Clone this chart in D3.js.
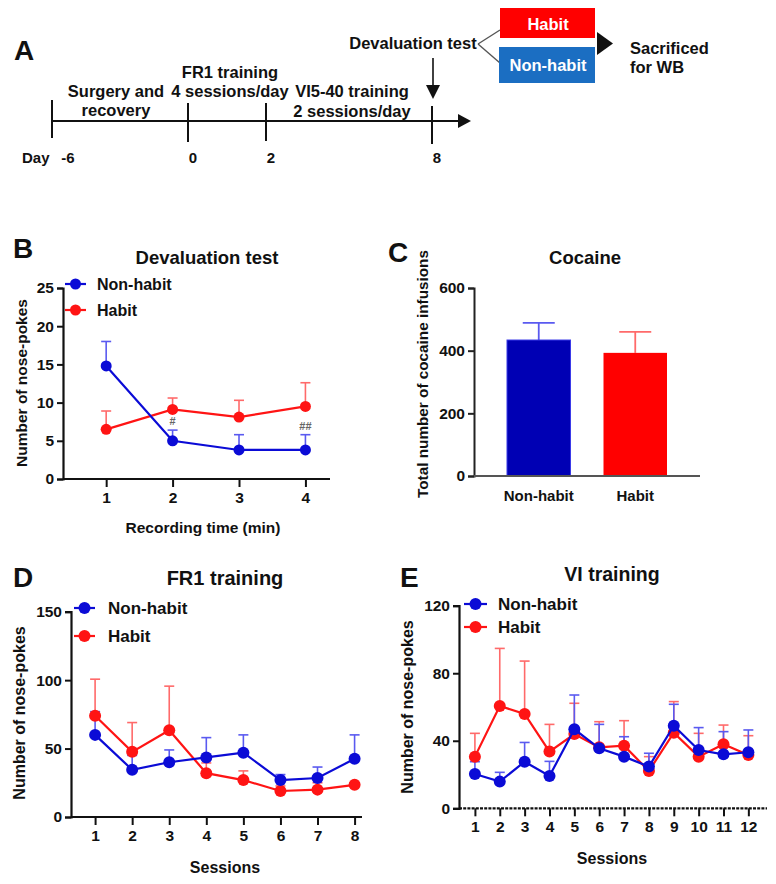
<!DOCTYPE html>
<html><head><meta charset="utf-8">
<script src="https://cdn.jsdelivr.net/npm/d3@7/dist/d3.min.js"></script>
<style>
body{margin:0;background:#fff}
svg{display:block}
text{font-family:"Liberation Sans",Arial,sans-serif;font-weight:bold;fill:#111}
</style>
</head><body>
<svg id="fig" width="776" height="884"></svg>
<script>
// ---------------- DATA ----------------
const groups = ["Non-habit", "Habit"];
const timelineDays = [-6, 0, 2, 8];
const timelineDayLabels = ["-6", "0", "2", "8"];

const devalTimes = [1, 2, 3, 4];
const devalNonHabit = [14.8, 5.0, 3.8, 3.8];
const devalNonHabitSEM = [3.2, 1.4, 2.0, 2.0];
const devalHabit = [6.5, 9.1, 8.1, 9.5];
const devalHabitSEM = [2.4, 1.5, 2.2, 3.1];
const devalMarks = ["", "#", "", "##"];
const devalYTicks = [0, 5, 10, 15, 20, 25];

const cocaineMeans = [434, 393];
const cocaineSEM = [55, 67];
const cocaineYTicks = [0, 200, 400, 600];

const fr1Sessions = [1, 2, 3, 4, 5, 6, 7, 8];
const fr1NonHabit = [60, 34.5, 40, 43.5, 47, 27, 28.5, 42.5];
const fr1NonHabitSEM = [17, 10.5, 9, 14.5, 13, 4, 8, 17.5];
const fr1Habit = [74, 47.6, 63.4, 32, 27, 19, 20, 23.5];
const fr1HabitSEM = [26.7, 21.4, 32.2, 7.5, 6.7, 3.7, 5, 1.5];
const fr1YTicks = [0, 50, 100, 150];

const viSessions = [1, 2, 3, 4, 5, 6, 7, 8, 9, 10, 11, 12];
const viNonHabit = [20.3, 15.8, 27.6, 19.1, 46.8, 35.5, 30.6, 24.7, 48.9, 34.5, 32, 33.2];
const viNonHabitSEM = [7.3, 5.5, 11.4, 8.7, 20.3, 14.2, 11.8, 7.9, 12.7, 13.3, 13.4, 13.2];
const viHabit = [30.6, 60.6, 55.9, 33.6, 44, 36.1, 37.1, 22.1, 44.8, 30.6, 37.9, 31.6];
const viHabitSEM = [13.8, 34.1, 31.3, 16.1, 18.2, 15.2, 14.8, 8.5, 18.4, 13.8, 11.4, 11.4];
const viYTicks = [0, 40, 80, 120];

// ---------------- STYLE ----------------
const BLUE = "#0b0bd6", BLUE_ERR = "#5a5af0";
const RED = "#ff1414", RED_ERR = "#ff6a6a";
const BAR_BLUE = "#0000b4";
const svg = d3.select("#fig");

function txt(g, x, y, s, size, anchor, extra) {
  const t = g.append("text").attr("x", x).attr("y", y).text(s)
    .attr("font-size", size).attr("text-anchor", anchor || "start");
  if (extra) extra(t);
  return t;
}

// ---------------- PANEL A (timeline) ----------------
(function () {
  const g = svg.append("g");
  const tx = d3.scaleLinear().domain([-6, 0, 2, 8]).range([52, 188, 266, 432]);
  const lineY = 121;
  const F = 16.5;
  txt(g, 14, 60, "A", 28);
  g.append("line").attr("x1", tx(-6)).attr("x2", 460).attr("y1", lineY).attr("y2", lineY)
    .attr("stroke", "#111").attr("stroke-width", 2);
  g.append("path").attr("d", `M458,${lineY - 7}L471,${lineY}L458,${lineY + 7}Z`).attr("fill", "#111");
  const tickSpan = [[100, 138], [103, 142], [103, 141], [106, 144]];
  timelineDays.forEach((d, i) => {
    g.append("line").attr("x1", tx(d)).attr("x2", tx(d)).attr("y1", tickSpan[i][0]).attr("y2", tickSpan[i][1])
      .attr("stroke", "#111").attr("stroke-width", 2);
    txt(g, tx(d) + (i === 0 ? 16 : 5), 163, timelineDayLabels[i], 15, "middle");
  });
  txt(g, 22, 163, "Day", 15);
  txt(g, 116, 97, "Surgery and", F, "middle");
  txt(g, 116, 116, "recovery", F, "middle");
  txt(g, 230, 78, "FR1 training", F, "middle");
  txt(g, 230, 97, "4 sessions/day", F, "middle");
  txt(g, 352, 97, "VI5-40 training", F, "middle");
  txt(g, 352, 117, "2 sessions/day", F, "middle");
  txt(g, 413, 49, "Devaluation test", F, "middle");
  g.append("line").attr("x1", 433).attr("x2", 433).attr("y1", 58).attr("y2", 88).attr("stroke", "#111").attr("stroke-width", 1.6);
  g.append("path").attr("d", "M426,85L440,85L433,99Z").attr("fill", "#111");
  g.append("line").attr("x1", 478).attr("y1", 44).attr("x2", 500).attr("y2", 30).attr("stroke", "#555").attr("stroke-width", 1.4);
  g.append("line").attr("x1", 478).attr("y1", 44).attr("x2", 500).attr("y2", 63).attr("stroke", "#555").attr("stroke-width", 1.4);
  g.append("rect").attr("x", 500).attr("y", 8).attr("width", 95).attr("height", 30).attr("fill", "#ff0000");
  txt(g, 548, 30, "Habit", 16.5, "middle", t => t.style("fill", "#fff"));
  g.append("rect").attr("x", 499).attr("y", 47).attr("width", 96).attr("height", 36).attr("fill", "#1b6ec2");
  txt(g, 548, 71, "Non-habit", 16.5, "middle", t => t.style("fill", "#fff"));
  g.append("path").attr("d", "M597,32L597,55L613,43.5Z").attr("fill", "#111");
  txt(g, 630, 54, "Sacrificed", F);
  txt(g, 630, 73, "for WB", F);
})();

// ---------------- helper: line panel ----------------
function linePanel(opt) {
  const g = svg.append("g");
  const x = d3.scaleLinear().domain(opt.xDomain).range(opt.xRange);
  const y = d3.scaleLinear().domain(opt.yDomain).range(opt.yRange);
  const y0 = opt.yRange[0];

  const ya = g.append("g").attr("transform", `translate(${opt.xRange[0]},0)`)
    .call(d3.axisLeft(y).tickValues(opt.yTicks).tickFormat(d3.format("d")).tickSize(6).tickPadding(3));
  ya.select(".domain").attr("stroke", "#111").attr("stroke-width", 2.2);
  ya.selectAll(".tick line").attr("stroke", "#111").attr("stroke-width", 2);
  ya.selectAll(".tick text").attr("font-size", opt.tickFont).attr("font-family", null).style("fill", "#111");
  const xa = g.append("g").attr("transform", `translate(0,${y0})`)
    .call(d3.axisBottom(x).tickValues(opt.sessions).tickFormat(d3.format("d")).tickSize(8).tickPadding(5).tickSizeOuter(0));
  xa.select(".domain").attr("stroke", "#111").attr("stroke-width", 2.2);
  if (opt.dashedX) xa.select(".domain").attr("stroke-dasharray", "3,1.2");
  xa.selectAll(".tick line").attr("stroke", "#111").attr("stroke-width", 2);
  xa.selectAll(".tick text").attr("font-size", opt.tickFont).attr("font-family", null).style("fill", "#111");
  xa.selectAll("path.domain").attr("d", `M${opt.xRange[0]},0H${opt.xRange[1]}`);

  const series = [
    { vals: opt.habit, sem: opt.habitSEM, c: RED, ce: RED_ERR },
    { vals: opt.nonHabit, sem: opt.nonHabitSEM, c: BLUE, ce: BLUE_ERR }
  ];
  series.forEach(s => {
    const eg = g.append("g");
    s.vals.forEach((v, i) => {
      const cx = x(opt.sessions[i]);
      eg.append("line").attr("x1", cx).attr("x2", cx).attr("y1", y(v)).attr("y2", y(v + s.sem[i]))
        .attr("stroke", s.ce).attr("stroke-width", 1.6);
      eg.append("line").attr("x1", cx - opt.cap).attr("x2", cx + opt.cap).attr("y1", y(v + s.sem[i])).attr("y2", y(v + s.sem[i]))
        .attr("stroke", s.ce).attr("stroke-width", 1.6);
    });
  });
  series.forEach(s => {
    const line = d3.line().x((d, i) => x(opt.sessions[i])).y(d => y(d));
    g.append("path").datum(s.vals).attr("d", line).attr("fill", "none").attr("stroke", s.c).attr("stroke-width", 2.2);
    g.selectAll(null).data(s.vals).enter().append("circle")
      .attr("cx", (d, i) => x(opt.sessions[i])).attr("cy", d => y(d)).attr("r", opt.r).attr("fill", s.c);
  });
  const L = opt.legend;
  [[groups[0], BLUE, L.y1], [groups[1], RED, L.y2]].forEach(([name, c, ly]) => {
    g.append("line").attr("x1", L.x1).attr("x2", L.x2).attr("y1", ly).attr("y2", ly).attr("stroke", c).attr("stroke-width", 2.2);
    g.append("circle").attr("cx", (L.x1 + L.x2) / 2).attr("cy", ly).attr("r", opt.r).attr("fill", c);
    txt(g, L.tx, ly + 6, name, L.font);
  });
  txt(g, opt.letter[0], opt.letter[1], opt.letter[2], 28);
  txt(g, opt.title[0], opt.title[1], opt.title[2], opt.titleFont, "middle");
  txt(g, opt.xTitle[0], opt.xTitle[1], opt.xTitle[2], opt.xTitleFont, "middle");
  txt(g, 0, 0, opt.yTitle[2], opt.yTitleFont, "middle",
    t => t.attr("transform", `translate(${opt.yTitle[0]},${opt.yTitle[1]}) rotate(-90)`));
  return { g, x, y };
}

// ---------------- PANEL B ----------------
const B = linePanel({
  xDomain: [0.35, 4.37], xRange: [63, 330], yDomain: [0, 25], yRange: [479, 288],
  sessions: devalTimes, yTicks: devalYTicks,
  nonHabit: devalNonHabit, nonHabitSEM: devalNonHabitSEM, habit: devalHabit, habitSEM: devalHabitSEM,
  tickFont: 15.5, cap: 5, r: 5.5,
  legend: { x1: 65, x2: 86, y1: 284, y2: 310, tx: 97, font: 16 },
  letter: [13, 258, "B"], title: [207, 264, "Devaluation test"], titleFont: 18.5,
  xTitle: [203, 533, "Recording time (min)"], xTitleFont: 15.5,
  yTitle: [27, 383, "Number of nose-pokes"], yTitleFont: 15.5
});
devalMarks.forEach((m, i) => {
  if (!m) return;
  B.g.append("text").attr("x", B.x(devalTimes[i])).attr("y", B.y(devalNonHabit[i] + devalNonHabitSEM[i]) - 5)
    .attr("text-anchor", "middle").attr("font-size", 11).attr("font-weight", "normal").style("fill", "#666").text(m);
});

// ---------------- PANEL C (bars) ----------------
(function () {
  const g = svg.append("g");
  const x = d3.scaleBand().domain(groups).range([474, 700]).paddingInner(0.342).paddingOuter(0.342);
  const y = d3.scaleLinear().domain([0, 600]).range([476, 288]);
  const colors = [BAR_BLUE, "#ff0000"], errC = [BLUE_ERR, RED_ERR];
  cocaineMeans.forEach((v, i) => {
    const cx = x(groups[i]) + x.bandwidth() / 2;
    g.append("line").attr("x1", cx).attr("x2", cx).attr("y1", y(v)).attr("y2", y(v + cocaineSEM[i])).attr("stroke", errC[i]).attr("stroke-width", 1.8);
    g.append("line").attr("x1", cx - 16).attr("x2", cx + 16).attr("y1", y(v + cocaineSEM[i])).attr("y2", y(v + cocaineSEM[i])).attr("stroke", errC[i]).attr("stroke-width", 1.8);
  });
  g.selectAll(null).data(cocaineMeans).enter().append("rect")
    .attr("x", (d, i) => x(groups[i])).attr("width", x.bandwidth())
    .attr("y", d => y(d)).attr("height", d => y(0) - y(d))
    .attr("fill", (d, i) => colors[i]).attr("stroke", (d, i) => i === 0 ? "#3a3ae8" : "none").attr("stroke-width", 1);
  const ya = g.append("g").attr("transform", "translate(474,0)")
    .call(d3.axisLeft(y).tickValues(cocaineYTicks).tickSize(6).tickPadding(3));
  ya.select(".domain").attr("stroke", "#222").attr("stroke-width", 2);
  ya.selectAll(".tick line").attr("stroke", "#222").attr("stroke-width", 2);
  ya.selectAll(".tick text").attr("font-size", 15.5).attr("font-family", null).style("fill", "#111");
  const xa = g.append("g").attr("transform", "translate(0,476)")
    .call(d3.axisBottom(x).tickSize(0).tickPadding(14));
  xa.select(".domain").attr("stroke", "#555").attr("stroke-width", 2).attr("d", "M474,0H700");
  xa.selectAll(".tick text").attr("font-size", 15).attr("font-family", null).style("fill", "#111");
  txt(g, 388, 262, "C", 28);
  txt(g, 585, 264, "Cocaine", 18.5, "middle");
  txt(g, 0, 0, "Total number of cocaine infusions", 15.3, "middle",
    t => t.attr("transform", "translate(428,374) rotate(-90)"));
})();

// ---------------- PANEL D ----------------
linePanel({
  xDomain: [0.35, 8.2], xRange: [71, 362], yDomain: [0, 150], yRange: [817, 611.7],
  sessions: fr1Sessions, yTicks: fr1YTicks,
  nonHabit: fr1NonHabit, nonHabitSEM: fr1NonHabitSEM, habit: fr1Habit, habitSEM: fr1HabitSEM,
  tickFont: 15.5, cap: 5, r: 6,
  legend: { x1: 74, x2: 95, y1: 608, y2: 636, tx: 108, font: 17 },
  letter: [13, 587, "D"], title: [225, 585, "FR1 training"], titleFont: 20,
  xTitle: [225, 873, "Sessions"], xTitleFont: 16,
  yTitle: [25, 713, "Number of nose-pokes"], yTitleFont: 16
});

// ---------------- PANEL E ----------------
linePanel({
  xDomain: [0.36, 12.75], xRange: [459, 767], yDomain: [0, 120], yRange: [808.3, 605.7],
  sessions: viSessions, yTicks: viYTicks,
  nonHabit: viNonHabit, nonHabitSEM: viNonHabitSEM, habit: viHabit, habitSEM: viHabitSEM,
  tickFont: 15.5, cap: 5, r: 6, dashedX: true,
  legend: { x1: 464, x2: 487, y1: 604, y2: 627, tx: 498, font: 17 },
  letter: [400, 587, "E"], title: [612, 581, "VI training"], titleFont: 19.5,
  xTitle: [612, 864, "Sessions"], xTitleFont: 16,
  yTitle: [413, 707, "Number of nose-pokes"], yTitleFont: 16
});
</script>
</body></html>
